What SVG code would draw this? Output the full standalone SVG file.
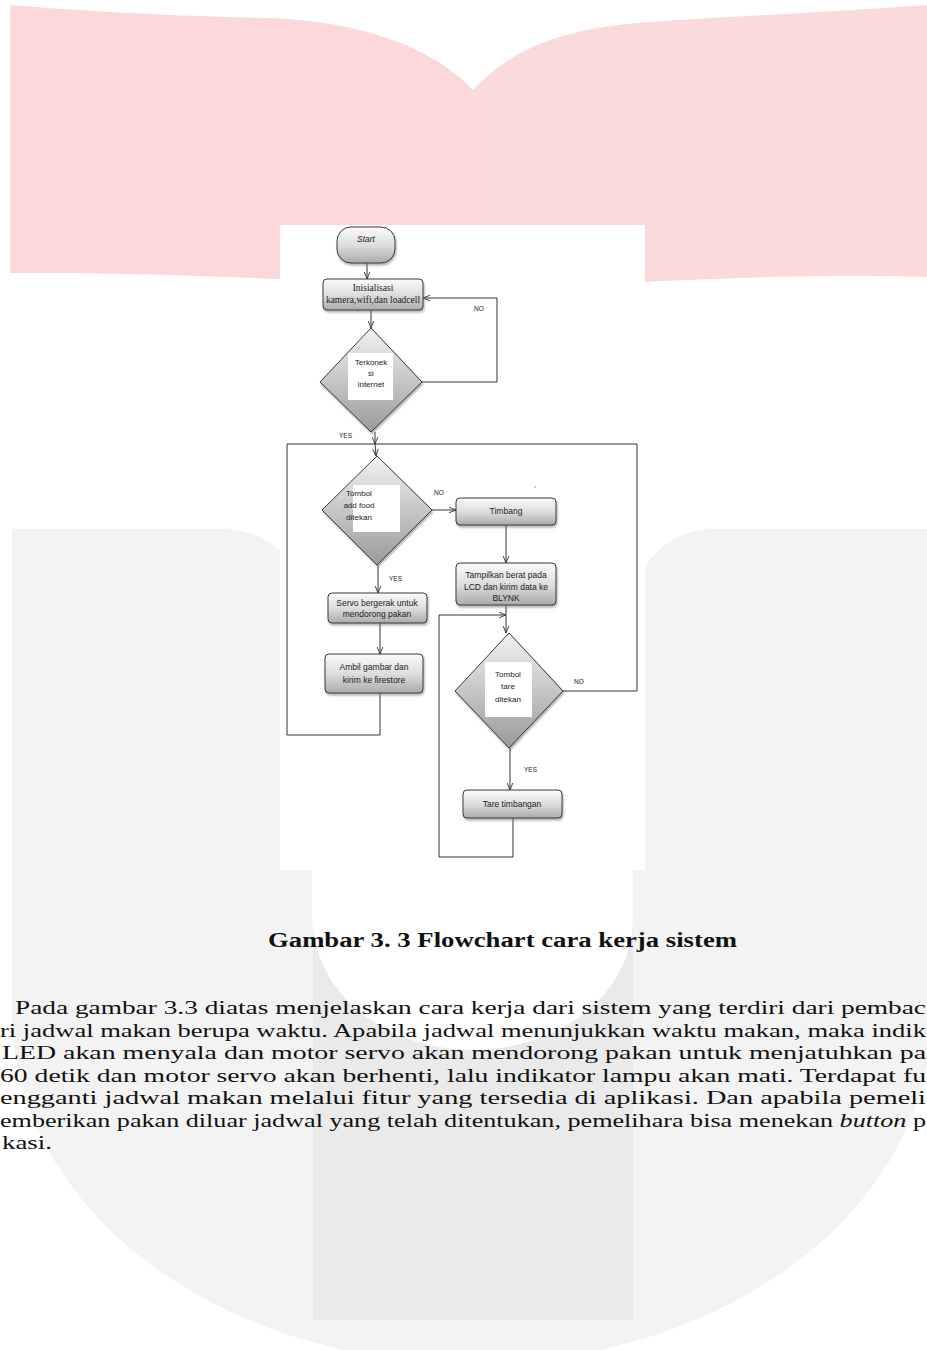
<svg xmlns="http://www.w3.org/2000/svg" width="927" height="1350" viewBox="0 0 927 1350">
<defs>
<style>
.box{stroke:#3a3a3a;stroke-width:1;fill:url(#gBox);filter:url(#sh)}
.dia{stroke:#3a3a3a;stroke-width:1;fill:url(#gDia);filter:url(#sh)}
.win{fill:#ffffff}
.t{font-family:"Liberation Sans",Arial,sans-serif;font-size:8.5px;fill:#222;text-anchor:middle}
.td{font-family:"Liberation Sans",Arial,sans-serif;font-size:8px;fill:#222;text-anchor:middle}
.ts{font-family:"Liberation Serif","Times New Roman",serif;font-size:9.5px;fill:#222;text-anchor:middle}
.lbl{font-family:"Liberation Sans",Arial,sans-serif;font-size:6.5px;fill:#222}
.con{fill:none;stroke:#333;stroke-width:1}
.para{font-family:"Liberation Serif","Times New Roman",serif;font-size:19px;fill:#111}
</style>
<linearGradient id="gBox" x1="0" y1="0" x2="0" y2="1">
<stop offset="0" stop-color="#fbfbfb"/><stop offset="0.5" stop-color="#dedede"/><stop offset="1" stop-color="#ababab"/>
</linearGradient>
<linearGradient id="gDia" x1="0" y1="0" x2="0" y2="1">
<stop offset="0" stop-color="#f2f2f2"/><stop offset="0.5" stop-color="#c6c6c6"/><stop offset="1" stop-color="#9a9a9a"/>
</linearGradient>
<filter id="sh" x="-20%" y="-20%" width="140%" height="150%">
<feDropShadow dx="1" dy="2" stdDeviation="1" flood-color="#777" flood-opacity="0.6"/>
</filter>
<marker id="arr" viewBox="0 0 10 10" refX="10" refY="5" markerWidth="7" markerHeight="7" orient="auto" markerUnits="userSpaceOnUse">
<path d="M0,1 L10,5 L0,9" fill="none" stroke="#333" stroke-width="1.3"/>
</marker>
</defs>

<rect x="0" y="0" width="927" height="1350" fill="#ffffff"/>

<g id="background">
<path d="M10,5 C90,12 200,17 270,18 C360,22 430,45 473,90 L473,290 C330,280 150,272 10,273 Z" fill="#fcd8da"/>
<path d="M473,90 C510,50 560,28 650,22 C760,15 860,10 927,5 L927,277 C800,272 620,283 473,290 Z" fill="#fbdadc"/>
<path d="M12,529 L222,529 A90,90 0 0 1 312,619 L312,920 A160,130 0 0 0 633,920 L633,609 A80,80 0 0 1 713,529 L932,529 L932,1014 A460,350 0 0 1 12,1014 Z" fill="#f3f3f3"/>
<path d="M313,920 A160,130 0 0 0 633,920 L633,1320 L313,1320 Z" fill="#eaeaea"/>
<rect x="280" y="225" width="365" height="645" fill="#ffffff"/>
</g>

<g id="connectors">
<path class="con" d="M367,263 L367,279" marker-end="url(#arr)"/>
<path class="con" d="M371,310 L371,328" marker-end="url(#arr)"/>
<path class="con" d="M422,382 L497,382 L497,298 L423,298" marker-end="url(#arr)"/>
<path class="con" d="M375,432 L375,444" marker-end="url(#arr)"/>
<path class="con" d="M375,444 L376,456" marker-end="url(#arr)"/>
<path class="con" d="M380,693 L380,735 L287,735 L287,444 L375,444"/>
<path class="con" d="M563,691 L637,691 L637,444 L375,444"/>
<path class="con" d="M432,510 L456,510" marker-end="url(#arr)"/>
<path class="con" d="M378,565 L378,593" marker-end="url(#arr)"/>
<path class="con" d="M380,623 L380,654" marker-end="url(#arr)"/>
<path class="con" d="M506,525 L506,563" marker-end="url(#arr)"/>
<path class="con" d="M506,605 L506,633" marker-end="url(#arr)"/>
<path class="con" d="M513,818 L513,857 L439,857 L439,615 L506,615" marker-end="url(#arr)"/>
<path class="con" d="M510,748 L510,790" marker-end="url(#arr)"/>
<text class="lbl" x="474" y="311">NO</text>
<text class="lbl" x="339" y="438">YES</text>
<text class="lbl" x="434" y="495">NO</text>
<text class="lbl" x="389" y="581">YES</text>
<text class="lbl" x="574" y="684">NO</text>
<text class="lbl" x="524" y="772">YES</text>
<circle cx="535" cy="487" r="0.8" fill="#8899aa"/>
</g>

<g id="start">
<rect class="box" x="337" y="227" width="58" height="36" rx="14" ry="14"/>
<text class="t" x="366" y="242" font-style="italic" font-size="8">Start</text>
</g>

<g id="init">
<rect class="box" x="323" y="279" width="100" height="31" rx="4"/>
<text class="ts" x="373" y="291">Inisialisasi</text>
<text class="ts" x="373" y="303">kamera,wifi,dan loadcell</text>
</g>

<g id="cek-internet">
<polygon class="dia" points="371,328 422,382 371,432 320,382"/>
<rect class="win" x="348" y="353" width="45" height="47"/>
<text class="td" x="371" y="365">Terkonek</text>
<text class="td" x="371" y="376">si</text>
<text class="td" x="371" y="387">internet</text>
</g>

<g id="cek-addfood">
<polygon class="dia" points="377,456 432,510 377,565 322,510"/>
<rect class="win" x="353" y="485" width="47" height="47"/>
<text class="td" x="359" y="496" text-anchor="start">Tombol</text>
<text class="td" x="359" y="508" text-anchor="start">add food</text>
<text class="td" x="359" y="520" text-anchor="start">ditekan</text>
</g>

<g id="timbang">
<rect class="box" x="456" y="498" width="100" height="27" rx="4"/>
<text class="t" x="506" y="514" font-size="9">Timbang</text>
</g>

<g id="tampilkan">
<rect class="box" x="456" y="563" width="100" height="42" rx="4"/>
<text class="t" x="506" y="578" font-size="8">Tampilkan berat pada</text>
<text class="t" x="506" y="590" font-size="8">LCD dan kirim data ke</text>
<text class="t" x="506" y="601" font-size="8">BLYNK</text>
</g>

<g id="servo">
<rect class="box" x="328" y="593" width="99" height="30" rx="4"/>
<text class="t" x="377" y="606" font-size="8">Servo bergerak untuk</text>
<text class="t" x="377" y="617" font-size="8">mendorong pakan</text>
</g>

<g id="ambil">
<rect class="box" x="325" y="654" width="98" height="39" rx="4"/>
<text class="t" x="374" y="670" font-size="9">Ambil gambar dan</text>
<text class="t" x="374" y="683" font-size="9">kirim ke firestore</text>
</g>

<g id="cek-tare">
<polygon class="dia" points="509,633 563,691 509,748 455,691"/>
<rect class="win" x="485" y="662" width="47" height="55"/>
<text class="td" x="508" y="677">Tombol</text>
<text class="td" x="508" y="689">tare</text>
<text class="td" x="508" y="702">ditekan</text>
</g>

<g id="tare">
<rect class="box" x="463" y="790" width="99" height="28" rx="4"/>
<text class="t" x="512" y="807">Tare timbangan</text>
</g>

<g id="caption">
<text x="268" y="947" font-family="'Liberation Serif','Times New Roman',serif" font-weight="bold" font-size="20" fill="#111" textLength="469" lengthAdjust="spacingAndGlyphs">Gambar 3. 3 Flowchart cara kerja sistem</text>
</g>

<g id="paragraph">
<text class="para" x="15" y="1014" textLength="911" lengthAdjust="spacingAndGlyphs">Pada gambar 3.3 diatas menjelaskan cara kerja dari sistem yang terdiri dari pembac</text>
<text class="para" x="0" y="1037" textLength="926" lengthAdjust="spacingAndGlyphs">ri jadwal makan berupa waktu. Apabila jadwal menunjukkan waktu makan, maka indik</text>
<text class="para" x="2" y="1059" textLength="924" lengthAdjust="spacingAndGlyphs">LED akan menyala dan motor servo akan mendorong pakan untuk menjatuhkan pa</text>
<text class="para" x="0" y="1082" textLength="926" lengthAdjust="spacingAndGlyphs">60 detik dan motor servo akan berhenti, lalu indikator lampu akan mati. Terdapat fu</text>
<text class="para" x="0" y="1104" textLength="926" lengthAdjust="spacingAndGlyphs">engganti jadwal makan melalui fitur yang tersedia di aplikasi. Dan apabila pemeli</text>
<text class="para" x="0" y="1127" textLength="926" lengthAdjust="spacingAndGlyphs">emberikan pakan diluar jadwal yang telah ditentukan, pemelihara bisa menekan <tspan font-style="italic">button</tspan> p</text>
<text class="para" x="2" y="1149" textLength="50" lengthAdjust="spacingAndGlyphs">kasi.</text>
</g>
</svg>
